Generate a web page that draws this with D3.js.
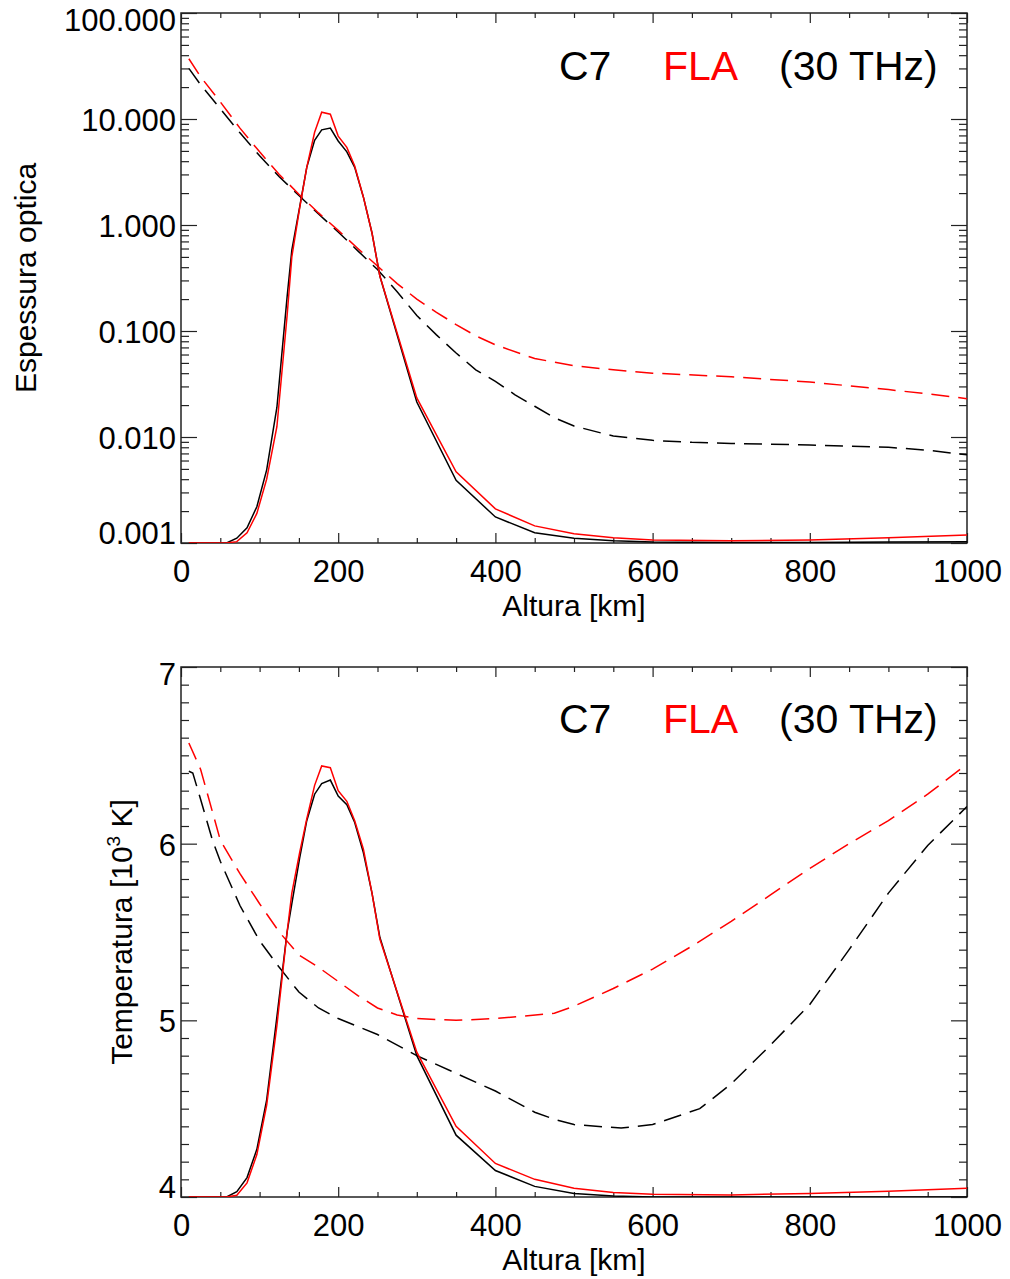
<!DOCTYPE html>
<meta charset="utf-8">

<!-- Load d3.js -->
<script src="https://cdn.jsdelivr.net/npm/d3@7"></script>

<style>
  body { margin: 0; background: #ffffff; }
  text { font-family: "Liberation Sans", Arial, Helvetica, sans-serif; }
</style>

<!-- Create a div where the graph will take place -->
<div id="my_dataviz"></div>

<script>

// ---- data ----

// heights (km) of the contribution curves (solid lines)
var hCF = [10, 58, 71, 84, 96.5, 109, 122, 135, 141, 151, 160, 170, 179, 190, 200, 211, 221, 232, 243, 253, 300, 350, 400, 450, 500, 550, 600, 700, 800, 900, 1000]

// top panel, solid lines
var cfTauC7  = [0.001, 0.001, 0.00111, 0.00139, 0.0022, 0.0049, 0.019, 0.21, 0.58, 1.48, 3.5, 6.3, 7.9, 8.2, 6.2, 4.9, 3.5, 1.84, 0.84, 0.33, 0.0214, 0.0039, 0.00176, 0.00125, 0.00111, 0.00105, 0.00102, 0.00101, 0.00101, 0.00102, 0.00103]
var cfTauFLA = [0.001, 0.001, 0.00103, 0.00125, 0.0019, 0.0040, 0.0125, 0.14, 0.5, 1.45, 3.5, 7.5, 11.6, 11.1, 6.9, 5.4, 3.6, 1.84, 0.84, 0.33, 0.0234, 0.0047, 0.0021, 0.00145, 0.00122, 0.00112, 0.00107, 0.00105, 0.00107, 0.00112, 0.00119]

// top panel, dashed lines (optical depth)
var hTauC7 = [10, 25, 50, 75, 100, 125, 150, 175, 200, 225, 250, 275, 300, 325, 350, 375, 400, 425, 450, 475, 500, 550, 600, 650, 700, 800, 900, 950, 1000]
var tauC7  = [30, 21, 12.5, 7.4, 4.5, 2.85, 1.9, 1.27, 0.86, 0.57, 0.38, 0.235, 0.14, 0.092, 0.062, 0.043, 0.0335, 0.025, 0.0195, 0.0152, 0.0127, 0.0102, 0.0093, 0.0089, 0.0087, 0.0084, 0.0080, 0.0075, 0.0068]
var hTauFLA = [10, 25, 50, 75, 100, 125, 150, 175, 200, 225, 250, 275, 300, 325, 350, 375, 400, 450, 500, 550, 600, 700, 800, 900, 950, 1000]
var tauFLA  = [37, 25, 14.5, 8.2, 4.9, 3.0, 1.95, 1.3, 0.89, 0.60, 0.41, 0.28, 0.20, 0.150, 0.115, 0.090, 0.074, 0.055, 0.047, 0.043, 0.040, 0.037, 0.033, 0.028, 0.0255, 0.023]

// bottom panel, solid lines
var cfTempC7  = [4.0, 4.0, 4.03, 4.11, 4.27, 4.55, 5.02, 5.50, 5.66, 5.92, 6.13, 6.28, 6.34, 6.36, 6.27, 6.22, 6.12, 5.95, 5.72, 5.47, 4.80, 4.35, 4.15, 4.06, 4.02, 4.005, 4.0, 4.0, 4.0, 4.0, 4.0]
var cfTempFLA = [4.0, 4.0, 4.01, 4.08, 4.24, 4.52, 4.97, 5.50, 5.72, 5.95, 6.14, 6.33, 6.44, 6.43, 6.30, 6.24, 6.13, 5.97, 5.72, 5.46, 4.82, 4.40, 4.19, 4.10, 4.05, 4.025, 4.015, 4.012, 4.02, 4.032, 4.05]

// bottom panel, dashed lines (temperature, 10^3 K)
var hTempC7 = [10, 15, 25, 40, 50, 75, 100, 125, 150, 175, 200, 250, 300, 350, 400, 450, 475, 500, 560, 600, 660, 700, 750, 800, 850, 900, 950, 1000]
var tempC7  = [6.41, 6.40, 6.25, 6.02, 5.90, 5.65, 5.45, 5.30, 5.16, 5.07, 5.01, 4.92, 4.80, 4.70, 4.60, 4.48, 4.44, 4.41, 4.39, 4.41, 4.50, 4.64, 4.86, 5.09, 5.40, 5.72, 5.99, 6.21]
var hTempFLA = [10, 25, 50, 75, 100, 125, 150, 175, 200, 225, 250, 275, 300, 350, 400, 475, 500, 550, 600, 650, 700, 750, 800, 850, 900, 950, 1000]
var tempFLA  = [6.57, 6.42, 6.02, 5.83, 5.66, 5.50, 5.37, 5.30, 5.22, 5.14, 5.07, 5.03, 5.01, 5.00, 5.01, 5.04, 5.08, 5.18, 5.29, 5.42, 5.56, 5.71, 5.86, 6.00, 6.13, 6.28, 6.45]

// ticks and labels
var xMajor = [0, 200, 400, 600, 800, 1000]
var xMinor = d3.range(0, 1001, 50).filter(function(d){ return d % 200 != 0 })
var tauMajor = [0.001, 0.01, 0.1, 1, 10, 100]
var tempMajor = [4, 5, 6, 7]
var legendText = ["C7", "FLA", "(30 THz)"]

// ---- layout ----
var W = 1010, H = 1279
var left = 181, right = 967

var svg = d3.select("#my_dataviz")
  .append("svg")
    .attr("width", W)
    .attr("height", H)
    .style("background-color", "#ffffff")

var x = d3.scaleLinear().domain([0, 1000]).range([left, right])

// log minor ticks 2..9 for every decade
var tauMinor = []
tauMajor.slice(0, -1).forEach(function(m){
  for (var k = 2; k < 10; k++) tauMinor.push(m * k)
})
var tempMinor = d3.range(40, 71).map(function(d){ return d / 10 }).filter(function(d){ return Math.abs(d - Math.round(d)) > 1e-6 })

function panel(y, top, bottom, yMajor, yMinor, yFmt, id) {
  var g = svg.append("g")

  g.append("clipPath").attr("id", id)
    .append("rect")
      .attr("x", left).attr("y", top)
      .attr("width", right - left).attr("height", bottom - top)

  // bottom axis with labels
  g.append("g")
    .attr("transform", "translate(0," + bottom + ")")
    .call(d3.axisBottom(x).tickValues(xMajor).tickSize(-10).tickSizeOuter(0).tickPadding(17).tickFormat(d3.format("d")))
  g.append("g")
    .attr("transform", "translate(0," + bottom + ")")
    .call(d3.axisBottom(x).tickValues(xMinor).tickSize(-5).tickSizeOuter(0).tickFormat(""))
  // top axis, ticks only
  g.append("g")
    .attr("transform", "translate(0," + top + ")")
    .call(d3.axisTop(x).tickValues(xMajor).tickSize(-10).tickSizeOuter(0).tickFormat(""))
  g.append("g")
    .attr("transform", "translate(0," + top + ")")
    .call(d3.axisTop(x).tickValues(xMinor).tickSize(-5).tickSizeOuter(0).tickFormat(""))

  // left axis with labels
  var yl = g.append("g")
    .attr("transform", "translate(" + left + ",0)")
    .call(d3.axisLeft(y).tickValues(yMajor).tickSize(-16).tickSizeOuter(0).tickPadding(5).tickFormat(yFmt))
  g.append("g")
    .attr("transform", "translate(" + left + ",0)")
    .call(d3.axisLeft(y).tickValues(yMinor).tickSize(-8).tickSizeOuter(0).tickFormat(""))
  // right axis, ticks only
  g.append("g")
    .attr("transform", "translate(" + right + ",0)")
    .call(d3.axisRight(y).tickValues(yMajor).tickSize(-16).tickSizeOuter(0).tickFormat(""))
  g.append("g")
    .attr("transform", "translate(" + right + ",0)")
    .call(d3.axisRight(y).tickValues(yMinor).tickSize(-8).tickSizeOuter(0).tickFormat(""))

  // IDL style: extreme labels pulled inside the frame
  var n = yMajor.length
  yl.selectAll(".tick text").attr("dy", function(d, i){
    if (i == 0) return "0em"
    if (i == n - 1) return "0.58em"
    return "0.37em"
  })

  g.selectAll(".domain").remove()
  g.selectAll(".tick line").attr("stroke", "#222").attr("stroke-width", 1.2)
  g.selectAll(".tick text").attr("fill", "#000").style("font-size", "31px")
    .style("font-family", "'Liberation Sans', Arial, sans-serif")

  // frame
  g.append("rect")
    .attr("x", left).attr("y", top)
    .attr("width", right - left).attr("height", bottom - top)
    .attr("fill", "none").attr("stroke", "#222").attr("stroke-width", 1.5)

  return g
}

function addLine(g, y, id, hs, vs, color, dashed) {
  var line = d3.line()
    .x(function(d){ return x(d[0]) })
    .y(function(d){ return y(d[1]) })
  g.append("path")
    .datum(d3.zip(hs, vs))
    .attr("clip-path", "url(#" + id + ")")
    .attr("fill", "none")
    .attr("stroke", color)
    .attr("stroke-width", 1.5)
    .attr("stroke-dasharray", dashed ? "18,9" : null)
    .attr("d", line)
}

function addLegend(g, baseY) {
  var xs = [559, 663, 779]
  var cols = ["#000", "#ff0000", "#000"]
  legendText.forEach(function(t, i){
    g.append("text")
      .attr("x", xs[i]).attr("y", baseY)
      .style("font-size", "41px")
      .attr("fill", cols[i])
      .text(t)
  })
}

// ---- top panel: optical depth ----
var yTau = d3.scaleLog().domain([0.001, 100]).range([543, 13])
var g1 = panel(yTau, 13, 543, tauMajor, tauMinor, d3.format(".3f"), "clip1")
addLine(g1, yTau, "clip1", hTauC7, tauC7, "#000", true)
addLine(g1, yTau, "clip1", hTauFLA, tauFLA, "#ff0000", true)
addLine(g1, yTau, "clip1", hCF, cfTauC7, "#000", false)
addLine(g1, yTau, "clip1", hCF, cfTauFLA, "#ff0000", false)
addLegend(g1, 80)

g1.append("text")
  .attr("text-anchor", "middle")
  .attr("x", (left + right) / 2)
  .attr("y", 616)
  .style("font-size", "30px")
  .text("Altura [km]")

g1.append("text")
  .attr("text-anchor", "middle")
  .attr("transform", "translate(36,278) rotate(-90)")
  .style("font-size", "30px")
  .text("Espessura optica")

// ---- bottom panel: temperature ----
var yTemp = d3.scaleLinear().domain([4, 7]).range([1197, 667])
var g2 = panel(yTemp, 667, 1197, tempMajor, tempMinor, d3.format("d"), "clip2")
addLine(g2, yTemp, "clip2", hTempC7, tempC7, "#000", true)
addLine(g2, yTemp, "clip2", hTempFLA, tempFLA, "#ff0000", true)
addLine(g2, yTemp, "clip2", hCF, cfTempC7, "#000", false)
addLine(g2, yTemp, "clip2", hCF, cfTempFLA, "#ff0000", false)
addLegend(g2, 733)

g2.append("text")
  .attr("text-anchor", "middle")
  .attr("x", (left + right) / 2)
  .attr("y", 1270)
  .style("font-size", "30px")
  .text("Altura [km]")

var yt = g2.append("text")
  .attr("text-anchor", "middle")
  .attr("transform", "translate(132,932) rotate(-90)")
  .style("font-size", "30px")
yt.append("tspan").text("Temperatura [10")
yt.append("tspan").attr("dy", -12).style("font-size", "19px").text("3")
yt.append("tspan").attr("dy", 12).text(" K]")

</script>
